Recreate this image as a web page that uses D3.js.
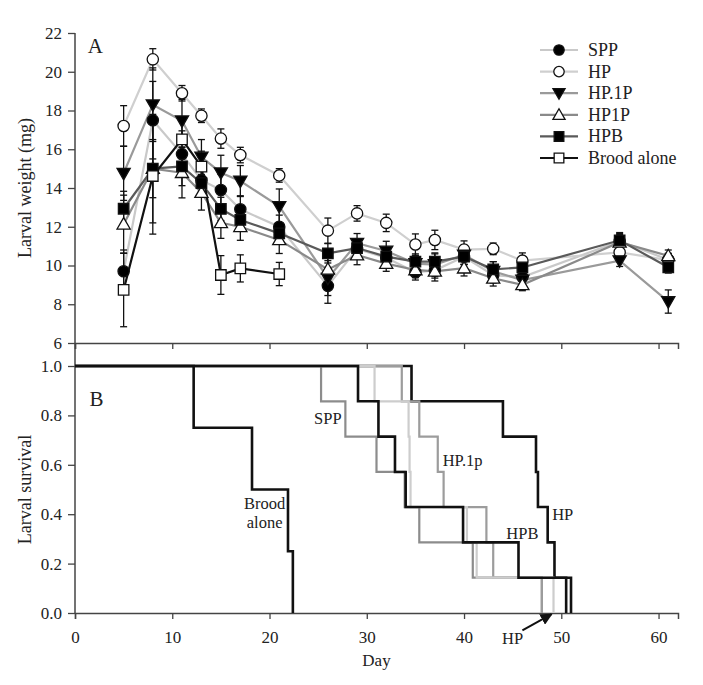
<!DOCTYPE html>
<html>
<head>
<meta charset="utf-8">
<script src="https://cdn.jsdelivr.net/npm/d3@7"></script>
<style>
html,body{margin:0;padding:0;background:#fff;}
svg{display:block;}
text{font-family:"Liberation Serif","Times New Roman",serif;fill:#222;}
</style>
</head>
<body>
<svg id="chart" width="703" height="685"></svg>
<script>
// ---------- DATA ----------
const days = [5,8,11,13,15,17,21,26,29,32,35,37,40,43,46,56,61];
const broodDays = [5,8,11,13,15,17,21];

const sppVals  = [9.7,17.5,15.75,14.4,13.9,12.9,12.0,8.95,10.85,10.4,9.65,9.75,10.45,9.5,9.4,11.25,10.3];
const sppErr   = [1.1,2.0,1.2,0.7,0.8,0.7,0.6,0.9,0.5,0.4,0.4,0.4,0.4,0.4,0.4,0.4,0.3];
const hpVals   = [17.2,20.64,18.89,17.73,16.55,15.7,14.65,11.8,12.69,12.2,11.08,11.32,10.82,10.86,10.25,10.68,10.28];
const hpErr    = [1.05,0.55,0.4,0.35,0.5,0.4,0.35,0.65,0.4,0.45,0.55,0.5,0.45,0.3,0.4,0.4,0.35];
const hp1pVals = [14.76,18.3,17.47,15.6,14.79,14.36,13.05,9.35,11.15,10.75,10.1,10.05,10.55,9.7,9.25,10.25,8.14];
const hp1pErr  = [1.4,1.9,1.1,0.9,0.9,0.8,0.9,0.9,0.5,0.5,0.5,0.6,0.5,0.5,0.4,0.3,0.6];
const hpOnePVals = [12.13,15.0,14.79,13.76,12.2,12.0,11.32,9.8,10.54,10.1,9.77,9.7,9.86,9.34,9.0,11.2,10.5];
const hpOnePErr  = [1.5,2.8,1.3,0.9,0.8,0.7,0.7,0.8,0.5,0.4,0.4,0.5,0.4,0.4,0.3,0.4,0.3];
const hpbVals  = [12.93,15.0,15.12,14.25,12.92,12.35,11.66,10.63,10.9,10.46,10.2,10.2,10.46,9.8,9.9,11.3,9.91];
const hpbErr   = [0.9,1.5,1.0,0.7,0.6,0.5,0.5,0.5,0.4,0.4,0.3,0.4,0.4,0.4,0.3,0.4,0.3];
const broodVals = [8.74,14.62,16.51,15.1,9.51,9.85,9.56];
const broodErr  = [1.9,3.0,1.0,0.8,1.0,0.7,0.6];

const seriesNames = ["SPP","HP","HP.1P","HP1P","HPB","Brood alone"];

const weightTicks = [6,8,10,12,14,16,18,20,22];
const survivalTicks = [0,0.2,0.4,0.6,0.8,1.0];
const dayTicks = [0,10,20,30,40,50,60];

// survival step data: [day, survival]
const survHP    = [[0,1],[34.6,0.857],[44.0,0.714],[47.4,0.571],[47.6,0.429],[48.6,0.286],[49.3,0.143],[51.0,0]];
const survSPP   = [[0,1],[25.3,0.857],[27.8,0.714],[31.0,0.571],[33.9,0.429],[35.4,0.286],[40.9,0.143],[48.0,0]];
const survHP1p  = [[0,1],[33.6,0.857],[35.4,0.714],[37.3,0.571],[37.9,0.429],[42.3,0.286],[43.0,0.143],[48.0,0]];
const survLight = [[0,1],[30.8,0.857],[34.3,0.714],[34.4,0.571],[34.5,0.429],[40.3,0.286],[41.3,0.143],[49.2,0]];
const survHPB   = [[0,1],[29.1,0.857],[31.2,0.714],[32.9,0.571],[34.0,0.429],[39.9,0.286],[45.6,0.143],[50.5,0]];
const survBrood = [[0,1],[12.2,0.75],[18.2,0.5],[21.9,0.25],[22.4,0]];

// ---------- SETUP ----------
const svg = d3.select("#chart");
const x = d3.scaleLinear().domain([0,62]).range([75,678]);
const yA = d3.scaleLinear().domain([6,22]).range([343,33]);
const yB = d3.scaleLinear().domain([0,1]).range([613,366]);
const axisColor = "#444";

const series = [
  {name:"SPP", d:days, v:sppVals, e:sppErr, line:"#c9c9c9", sym:d3.symbolCircle, size:100, fill:"#000", rot:0},
  {name:"HP", d:days, v:hpVals, e:hpErr, line:"#cfcfcf", sym:d3.symbolCircle, size:100, fill:"#fff", rot:0},
  {name:"HP.1P", d:days, v:hp1pVals, e:hp1pErr, line:"#9a9a9a", sym:d3.symbolTriangle, size:75, fill:"#000", rot:180},
  {name:"HP1P", d:days, v:hpOnePVals, e:hpOnePErr, line:"#8a8a8a", sym:d3.symbolTriangle, size:75, fill:"#fff", rot:0},
  {name:"HPB", d:days, v:hpbVals, e:hpbErr, line:"#5a5a5a", sym:d3.symbolSquare, size:110, fill:"#000", rot:0},
  {name:"Brood alone", d:broodDays, v:broodVals, e:broodErr, line:"#111", sym:d3.symbolSquare, size:110, fill:"#fff", rot:0}
];

// ---------- PANEL A AXES ----------
const gAy = svg.append("g").attr("transform",`translate(${x(0)},0)`)
  .call(d3.axisLeft(yA).tickValues(weightTicks).tickSize(7).tickPadding(6).tickFormat(d3.format("d")));
const gAx = svg.append("g").attr("transform",`translate(0,${yA(6)})`)
  .call(d3.axisBottom(x).tickValues(dayTicks).tickSize(6).tickFormat(""));
// ---------- PANEL B AXES ----------
const gBy = svg.append("g").attr("transform",`translate(${x(0)},0)`)
  .call(d3.axisLeft(yB).tickValues(survivalTicks).tickSize(7).tickPadding(6).tickFormat(d3.format(".1f")));
const gBx = svg.append("g").attr("transform",`translate(0,${yB(0)})`)
  .call(d3.axisBottom(x).tickValues(dayTicks).tickSize(6).tickPadding(12).tickFormat(d3.format("d")));

[gAy,gAx,gBy,gBx].forEach(g=>{
  g.selectAll("path.domain").attr("stroke",axisColor).attr("stroke-width",1.5);
  g.selectAll(".tick line").attr("stroke",axisColor).attr("stroke-width",1.3);
  g.selectAll(".tick text").attr("font-family","Liberation Serif").attr("font-size",17).attr("fill","#222");
});
gBy.select("path.domain").remove();
gAy.select("path.domain").remove();
// continuous left axis line
svg.append("line").attr("x1",x(0)).attr("x2",x(0)).attr("y1",yA(22)).attr("y2",yB(0))
  .attr("stroke",axisColor).attr("stroke-width",1.5);

// axis titles
svg.append("text").attr("transform",`translate(31,${(yA(6)+yA(22))/2}) rotate(-90)`)
  .attr("text-anchor","middle").attr("font-size",18).text("Larval weight (mg)");
svg.append("text").attr("transform",`translate(31,${(yB(0)+yB(1))/2}) rotate(-90)`)
  .attr("text-anchor","middle").attr("font-size",18).text("Larval survival");
svg.append("text").attr("x",(x(0)+x(62))/2).attr("y",666).attr("text-anchor","middle")
  .attr("font-size",17).text("Day");

// panel letters
svg.append("text").attr("x",x(1.3)).attr("y",yA(20.95)).attr("font-size",21).text("A");
svg.append("text").attr("x",x(1.5)).attr("y",yB(0.84)).attr("font-size",21).text("B");

// ---------- PANEL A MARKS ----------
const lineA = d3.line().x(d=>x(d[0])).y(d=>yA(d[1]));
series.forEach(s=>{
  const pts = s.d.map((dd,i)=>[dd,s.v[i]]);
  svg.append("path").datum(pts).attr("d",lineA).attr("fill","none")
    .attr("stroke",s.line).attr("stroke-width",2.2);
});
series.forEach(s=>{
  const g = svg.append("g");
  s.d.forEach((dd,i)=>{
    const cx = x(dd), top = yA(s.v[i]+s.e[i]), bot = yA(s.v[i]-s.e[i]);
    g.append("line").attr("x1",cx).attr("x2",cx).attr("y1",top).attr("y2",bot).attr("stroke","#111").attr("stroke-width",1.3);
    g.append("line").attr("x1",cx-3.5).attr("x2",cx+3.5).attr("y1",top).attr("y2",top).attr("stroke","#111").attr("stroke-width",1.3);
    g.append("line").attr("x1",cx-3.5).attr("x2",cx+3.5).attr("y1",bot).attr("y2",bot).attr("stroke","#111").attr("stroke-width",1.3);
  });
});
series.forEach(s=>{
  const sym = d3.symbol().type(s.sym).size(s.size);
  s.d.forEach((dd,i)=>{
    svg.append("path").attr("d",sym())
      .attr("transform",`translate(${x(dd)},${yA(s.v[i]) + (s.sym===d3.symbolTriangle ? (s.rot?-1:1) : 0)}) rotate(${s.rot})`)
      .attr("fill",s.fill).attr("stroke","#111").attr("stroke-width",1.3);
  });
});

// legend
const leg = svg.append("g");
series.forEach((s,i)=>{
  const cy = 50 + i*21.6;
  leg.append("line").attr("x1",540).attr("x2",578).attr("y1",cy).attr("y2",cy).attr("stroke",s.line).attr("stroke-width",2.2);
  leg.append("path").attr("d",d3.symbol().type(s.sym).size(s.size*0.85)())
    .attr("transform",`translate(559,${cy + (s.sym===d3.symbolTriangle ? (s.rot?-1:1) : 0)}) rotate(${s.rot})`)
    .attr("fill",s.fill).attr("stroke","#111").attr("stroke-width",1.3);
  leg.append("text").attr("x",588).attr("y",cy+6).attr("font-size",18).text(seriesNames[i]);
});

// ---------- PANEL B MARKS ----------
const lineB = d3.line().x(d=>x(d[0])).y(d=>yB(d[1])).curve(d3.curveStepAfter);
const survSeries = [
  {d:survHP, c:"#111", w:2.6},
  {d:survSPP, c:"#8c8c8c", w:2.2},
  {d:survHP1p, c:"#9c9c9c", w:2.2},
  {d:survLight, c:"#cdcdcd", w:2.2},
  {d:survHPB, c:"#111", w:2.6},
  {d:survBrood, c:"#111", w:2.6}
];
survSeries.forEach(s=>{
  svg.append("path").datum(s.d).attr("d",lineB).attr("fill","none")
    .attr("stroke",s.c).attr("stroke-width",s.w);
});

// curve labels
const lab = (t,dx,dy,anchor)=>svg.append("text").attr("x",x(dx)).attr("y",yB(dy)).attr("font-size",16.5)
  .attr("text-anchor",anchor||"middle").text(t);
lab("SPP",26.0,0.765);
lab("HP.1p",37.8,0.595,"start");
lab("HPB",46.0,0.30);
lab("HP",50.15,0.375);
lab("Brood",19.5,0.42);
lab("alone",19.5,0.345);
lab("HP",45.0,-0.125);
// arrow
svg.append("defs").append("marker").attr("id","arr").attr("viewBox","0 0 10 10")
  .attr("refX",9).attr("refY",5).attr("markerWidth",6).attr("markerHeight",6).attr("orient","auto")
  .append("path").attr("d","M0,0L10,5L0,10z").attr("fill","#111");
svg.append("line").attr("x1",x(46.0)).attr("y1",yB(-0.07)).attr("x2",x(49.0)).attr("y2",yB(-0.005))
  .attr("stroke","#111").attr("stroke-width",2).attr("marker-end","url(#arr)");
</script>
</body>
</html>
